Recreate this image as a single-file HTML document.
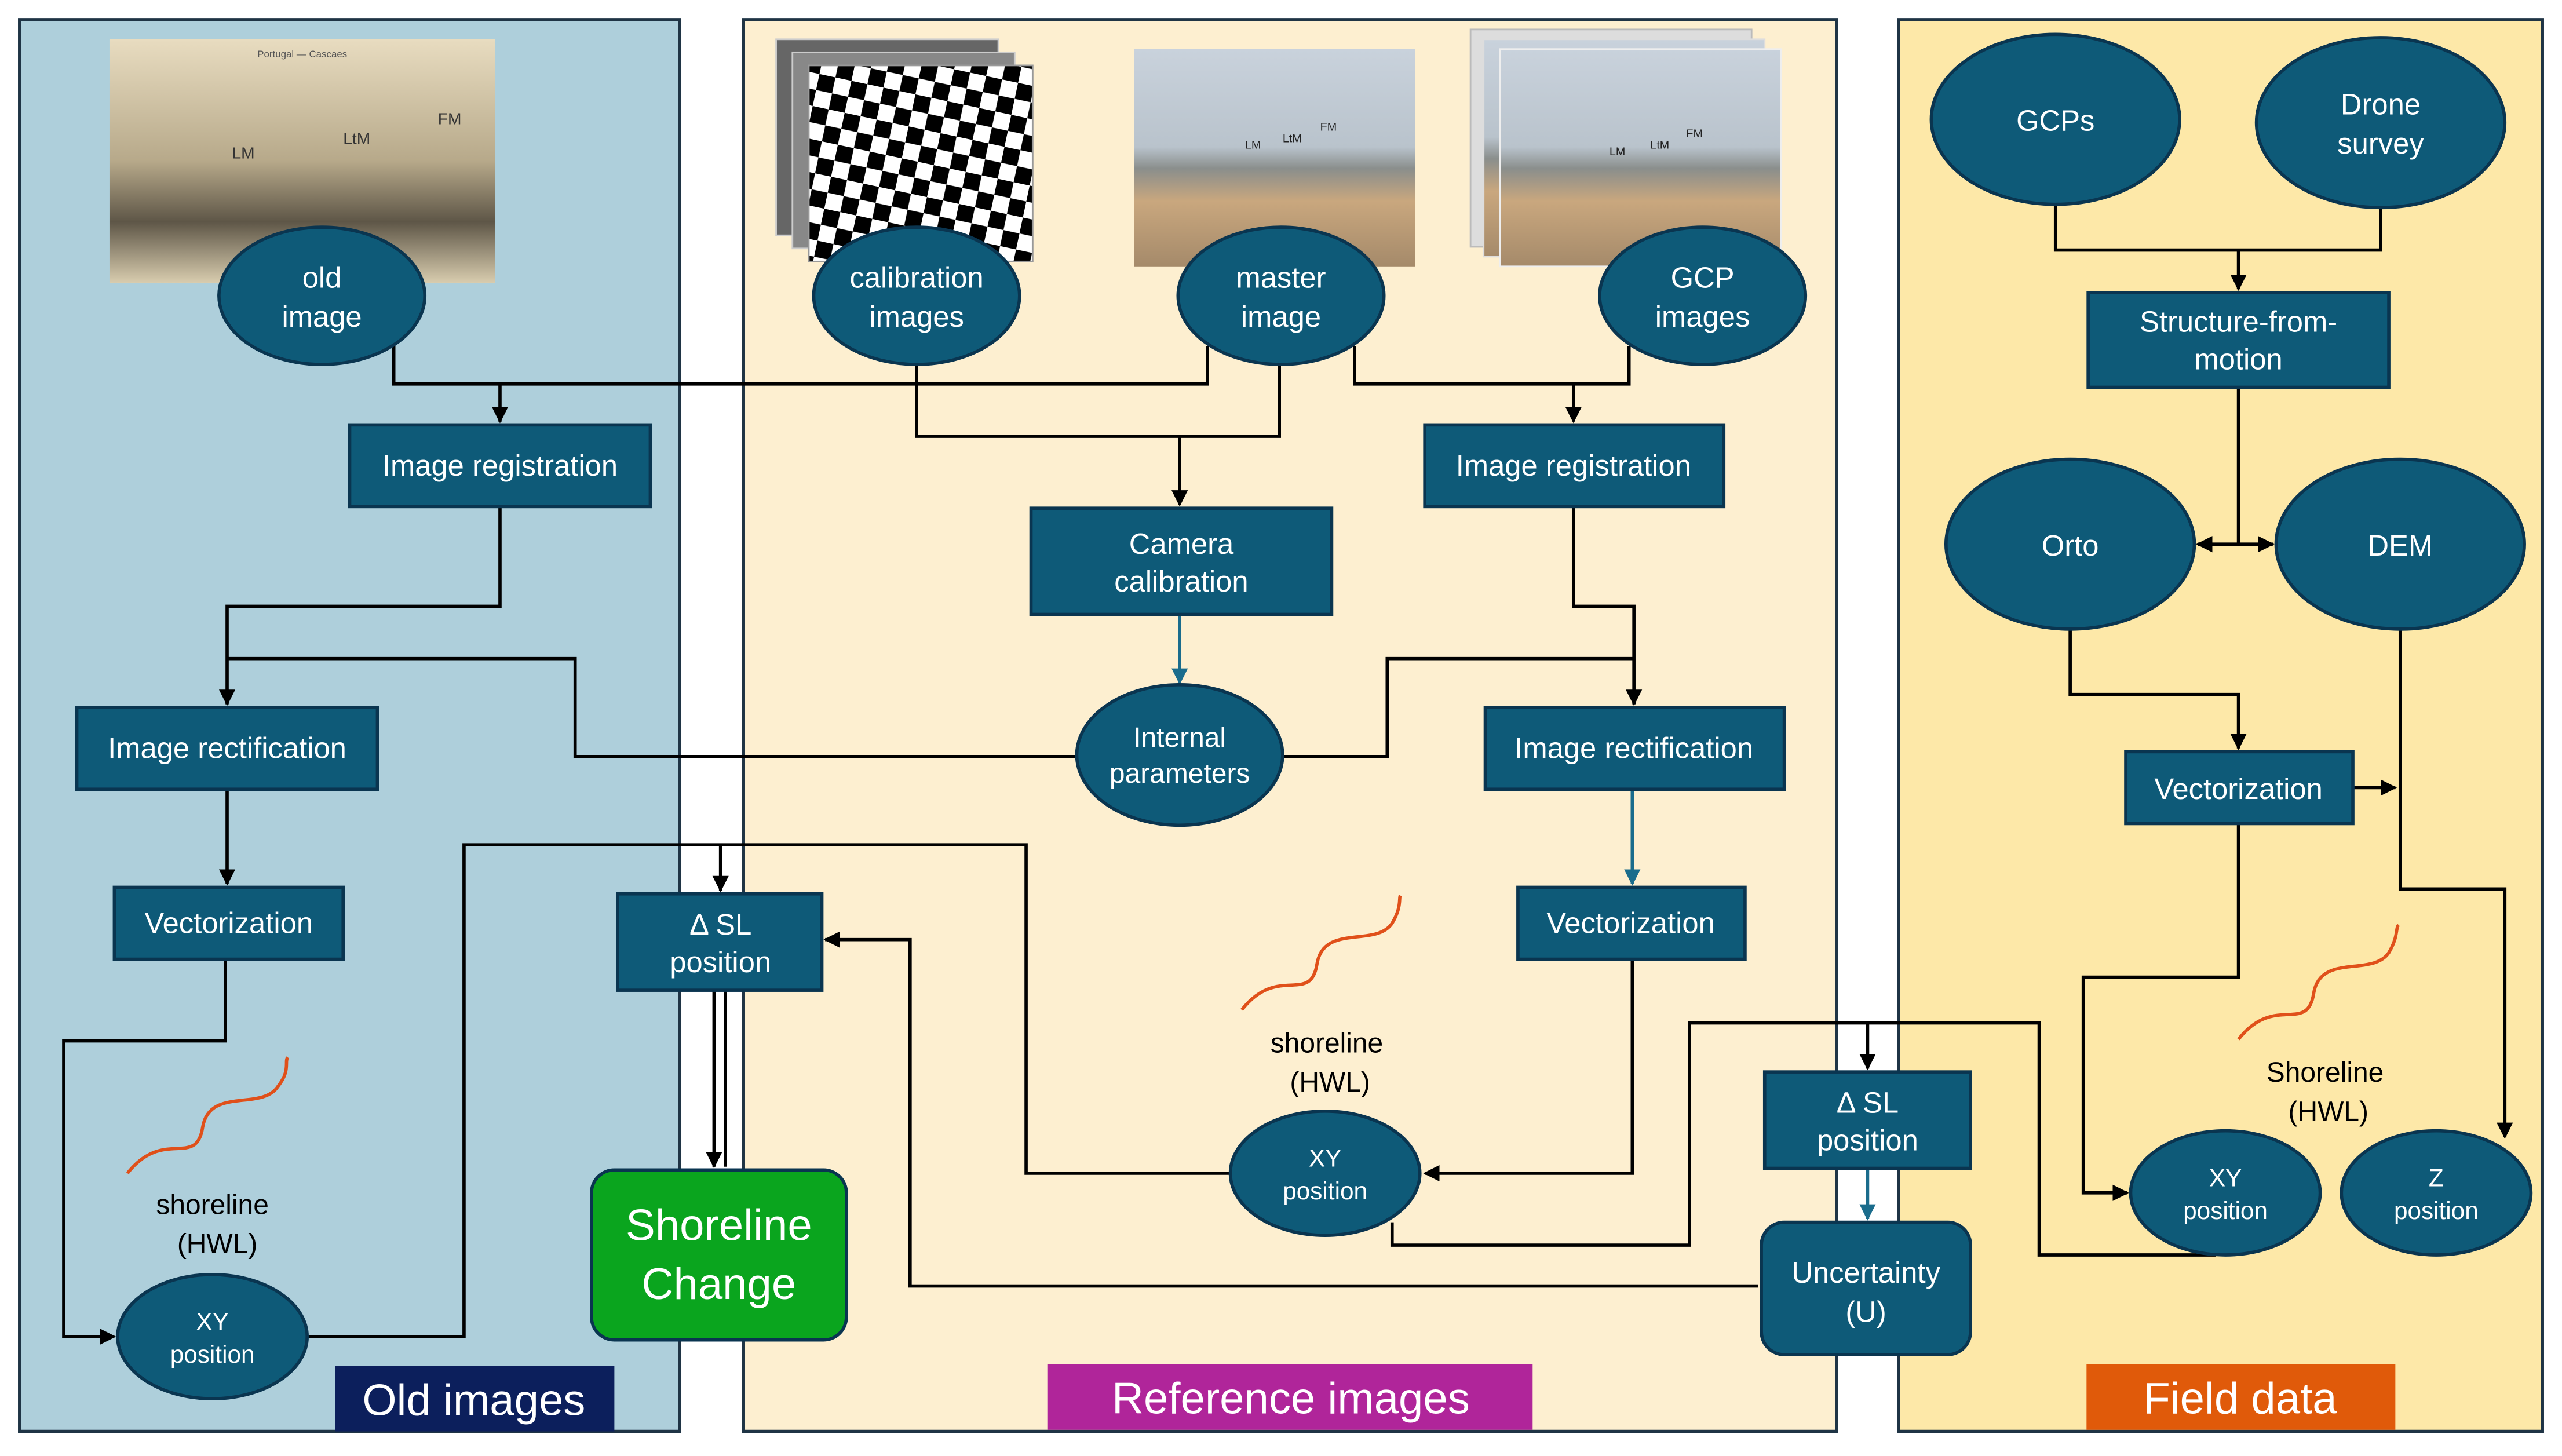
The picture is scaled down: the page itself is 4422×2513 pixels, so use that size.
<!DOCTYPE html>
<html><head><meta charset="utf-8"><style>
html,body{margin:0;padding:0;background:#fff;}
svg{display:block;}
text{font-family:"Liberation Sans",sans-serif;}
</style></head><body>
<svg width="4422" height="2513" viewBox="0 0 1568 891" xmlns="http://www.w3.org/2000/svg">
<defs>
<marker id="a" viewBox="0 0 10 10" refX="9" refY="5" markerWidth="5" markerHeight="5" orient="auto-start-reverse"><path d="M0,0L10,5L0,10z" fill="#000"/></marker>
<marker id="b" viewBox="0 0 10 10" refX="9" refY="5" markerWidth="5" markerHeight="5" orient="auto"><path d="M0,0L10,5L0,10z" fill="#1a6c8c"/></marker>
<pattern id="chk" width="20" height="20" patternUnits="userSpaceOnUse" patternTransform="rotate(12)"><rect width="20" height="20" fill="#fff"/><rect width="10" height="10" fill="#000"/><rect x="10" y="10" width="10" height="10" fill="#000"/></pattern>
<linearGradient id="sep" x1="0" y1="0" x2="0" y2="1"><stop offset="0" stop-color="#e8dcc0"/><stop offset=".5" stop-color="#b7a98a"/><stop offset=".75" stop-color="#5e5647"/><stop offset="1" stop-color="#d8ccae"/></linearGradient>
<linearGradient id="beach" x1="0" y1="0" x2="0" y2="1"><stop offset="0" stop-color="#c9d2dc"/><stop offset=".45" stop-color="#b9c3cc"/><stop offset=".55" stop-color="#8a8e8c"/><stop offset=".7" stop-color="#c9a77e"/><stop offset="1" stop-color="#a58a6a"/></linearGradient>
</defs>
<g stroke="#1f3445" stroke-width="2">
<rect x="12" y="12" width="404" height="864" fill="#aecfdb"/>
<rect x="455" y="12" width="669" height="864" fill="#fdefd0"/>
<rect x="1162" y="12" width="394" height="864" fill="#fde8a8"/>
</g>
<!-- photos -->
<rect x="67" y="24" width="236" height="149" fill="url(#sep)"/>
<text x="185" y="35" font-size="6" fill="#555" text-anchor="middle">Portugal — Cascaes</text>
<text x="142" y="97" font-size="10" fill="#333">LM</text><text x="210" y="88" font-size="10" fill="#333">LtM</text><text x="268" y="76" font-size="10" fill="#333">FM</text>
<rect x="475" y="24" width="136" height="120" fill="#666" stroke="#ccc"/>
<rect x="485" y="32" width="136" height="120" fill="#888" stroke="#ccc"/>
<rect x="495" y="40" width="137" height="120" fill="url(#chk)" stroke="#999"/>
<rect x="694" y="30" width="172" height="133" fill="url(#beach)"/>
<rect x="900" y="18" width="172" height="133" fill="#ddd" stroke="#bbb"/>
<rect x="908" y="24" width="172" height="133" fill="url(#beach)" stroke="#ddd"/>
<rect x="918" y="30" width="172" height="133" fill="url(#beach)" stroke="#eee"/>
<g font-size="7" fill="#222"><text x="762" y="91">LM</text><text x="785" y="87">LtM</text><text x="808" y="80">FM</text><text x="985" y="95">LM</text><text x="1010" y="91">LtM</text><text x="1032" y="84">FM</text></g>
<!-- connectors -->
<g fill="none" stroke="#000" stroke-width="2">
<path d="M241,212V235H739V212"/><path d="M306,235V258" marker-end="url(#a)"/>
<path d="M561,223V267H783V223"/><path d="M722,267V309" marker-end="url(#a)"/>
<path d="M829,212V235H997V212"/><path d="M963,235V258" marker-end="url(#a)"/>
<path d="M306,310V371H139V431" marker-end="url(#a)"/>
<path d="M139,403H352V463H659"/>
<path d="M786,463H849V403H1000"/>
<path d="M963,310V371H1000V431" marker-end="url(#a)"/>
<path d="M139,483V541" marker-end="url(#a)"/>
<path d="M138,587V637H39V818H70" marker-end="url(#a)"/>
<path d="M188,818H284V517H628V718H753"/>
<path d="M441,517V545" marker-end="url(#a)"/>
<path d="M437,606V714" marker-end="url(#a)"/><path d="M444,606V714"/>
<path d="M1076,787H557V575H505" marker-end="url(#a)"/>
<path d="M999,587V718H872" marker-end="url(#a)"/>
<path d="M852,748V762H1034V626H1248V768H1356"/>
<path d="M1143,626V654" marker-end="url(#a)"/>
<path d="M1258,125V153H1457V127"/><path d="M1370,153V177" marker-end="url(#a)"/>
<path d="M1370,237V333"/><path d="M1345,333H1391" marker-start="url(#a)" marker-end="url(#a)"/>
<path d="M1267,385V425H1370V458" marker-end="url(#a)"/>
<path d="M1440,482H1466" marker-end="url(#a)"/>
<path d="M1469,385V544H1533V696" marker-end="url(#a)"/>
<path d="M1370,504V598H1275V730H1302" marker-end="url(#a)"/>
</g>
<g fill="none" stroke="#1a6c8c" stroke-width="2">
<path d="M722,376V418" marker-end="url(#b)"/>
<path d="M999,483V541" marker-end="url(#b)"/>
<path d="M1143,715V746" marker-end="url(#b)"/>
</g>
<!-- squiggles -->
<g fill="none" stroke="#e0501a" stroke-width="2">
<path d="M78,718C100,690 120,715 124,690C128,665 160,680 170,665C178,655 174,650 176,647"/>
<path d="M760,618C782,590 802,615 806,590C810,565 842,580 852,565C858,555 856,550 857,548"/>
<path d="M1370,636C1392,608 1412,633 1416,608C1420,583 1452,598 1462,583C1468,573 1466,568 1468,566"/>
</g>
<g font-size="17" fill="#000" text-anchor="middle">
<text x="130" y="743">shoreline</text><text x="133" y="767">(HWL)</text>
<text x="812" y="644">shoreline</text><text x="814" y="668">(HWL)</text>
<text x="1423" y="662">Shoreline</text><text x="1425" y="686">(HWL)</text>
</g>
<!-- nodes -->
<g fill="#0e5a78" stroke="#0a3550" stroke-width="2">
<ellipse cx="197" cy="181" rx="63" ry="42"/><ellipse cx="561" cy="181" rx="63" ry="42"/>
<ellipse cx="784" cy="181" rx="63" ry="42"/><ellipse cx="1042" cy="181" rx="63" ry="42"/>
<ellipse cx="1258" cy="73" rx="76" ry="52"/><ellipse cx="1457" cy="75" rx="76" ry="52"/>
<ellipse cx="1267" cy="333" rx="76" ry="52"/><ellipse cx="1469" cy="333" rx="76" ry="52"/>
<ellipse cx="722" cy="462" rx="63" ry="43"/>
<ellipse cx="811" cy="718" rx="58" ry="38"/><ellipse cx="130" cy="818" rx="58" ry="38"/>
<ellipse cx="1362" cy="730" rx="58" ry="38"/><ellipse cx="1491" cy="730" rx="58" ry="38"/>
<rect x="214" y="260" width="184" height="50"/><rect x="47" y="433" width="184" height="50"/>
<rect x="70" y="543" width="140" height="44"/><rect x="378" y="547" width="125" height="59"/>
<rect x="631" y="311" width="184" height="65"/><rect x="872" y="260" width="183" height="50"/>
<rect x="909" y="433" width="183" height="50"/><rect x="929" y="543" width="139" height="44"/>
<rect x="1080" y="656" width="126" height="59"/><rect x="1078" y="748" width="128" height="81" rx="14"/>
<rect x="1278" y="179" width="184" height="58"/><rect x="1301" y="460" width="139" height="44"/>
</g>
<rect x="362" y="716" width="156" height="104" rx="14" fill="#0aa51e" stroke="#0a3550" stroke-width="2"/>
<g fill="#fff" font-size="18" text-anchor="middle">
<text x="197" y="176">old</text><text x="197" y="200">image</text>
<text x="561" y="176">calibration</text><text x="561" y="200">images</text>
<text x="784" y="176">master</text><text x="784" y="200">image</text>
<text x="1042" y="176">GCP</text><text x="1042" y="200">images</text>
<text x="1258" y="80">GCPs</text>
<text x="1457" y="70">Drone</text><text x="1457" y="94">survey</text>
<text x="1267" y="340">Orto</text><text x="1469" y="340">DEM</text>
<text x="722" y="457" font-size="17">Internal</text><text x="722" y="479" font-size="17">parameters</text>
<text x="306" y="291">Image registration</text><text x="139" y="464">Image rectification</text>
<text x="140" y="571">Vectorization</text>
<text x="441" y="572">Δ SL</text><text x="441" y="595">position</text>
<text x="723" y="339">Camera</text><text x="723" y="362">calibration</text>
<text x="963" y="291">Image registration</text><text x="1000" y="464">Image rectification</text>
<text x="998" y="571">Vectorization</text>
<text x="1143" y="681">Δ SL</text><text x="1143" y="704">position</text>
<text x="1142" y="785">Uncertainty</text><text x="1142" y="809">(U)</text>
<text x="1370" y="203">Structure-from-</text><text x="1370" y="226">motion</text>
<text x="1370" y="489">Vectorization</text>
<g font-size="15"><text x="811" y="714">XY</text><text x="811" y="734">position</text>
<text x="130" y="814">XY</text><text x="130" y="834">position</text>
<text x="1362" y="726">XY</text><text x="1362" y="746">position</text>
<text x="1491" y="726">Z</text><text x="1491" y="746">position</text></g>
<text x="440" y="759" font-size="27">Shoreline</text><text x="440" y="795" font-size="27">Change</text>
</g>
<rect x="205" y="836" width="171" height="40" fill="#0c1f5c"/>
<rect x="641" y="835" width="297" height="40" fill="#b0259a"/>
<rect x="1277" y="835" width="189" height="40" fill="#e05a0a"/>
<g fill="#fff" font-size="27" text-anchor="middle">
<text x="290" y="866">Old images</text><text x="790" y="865">Reference images</text><text x="1371" y="865">Field data</text>
</g>
</svg>
</body></html>
